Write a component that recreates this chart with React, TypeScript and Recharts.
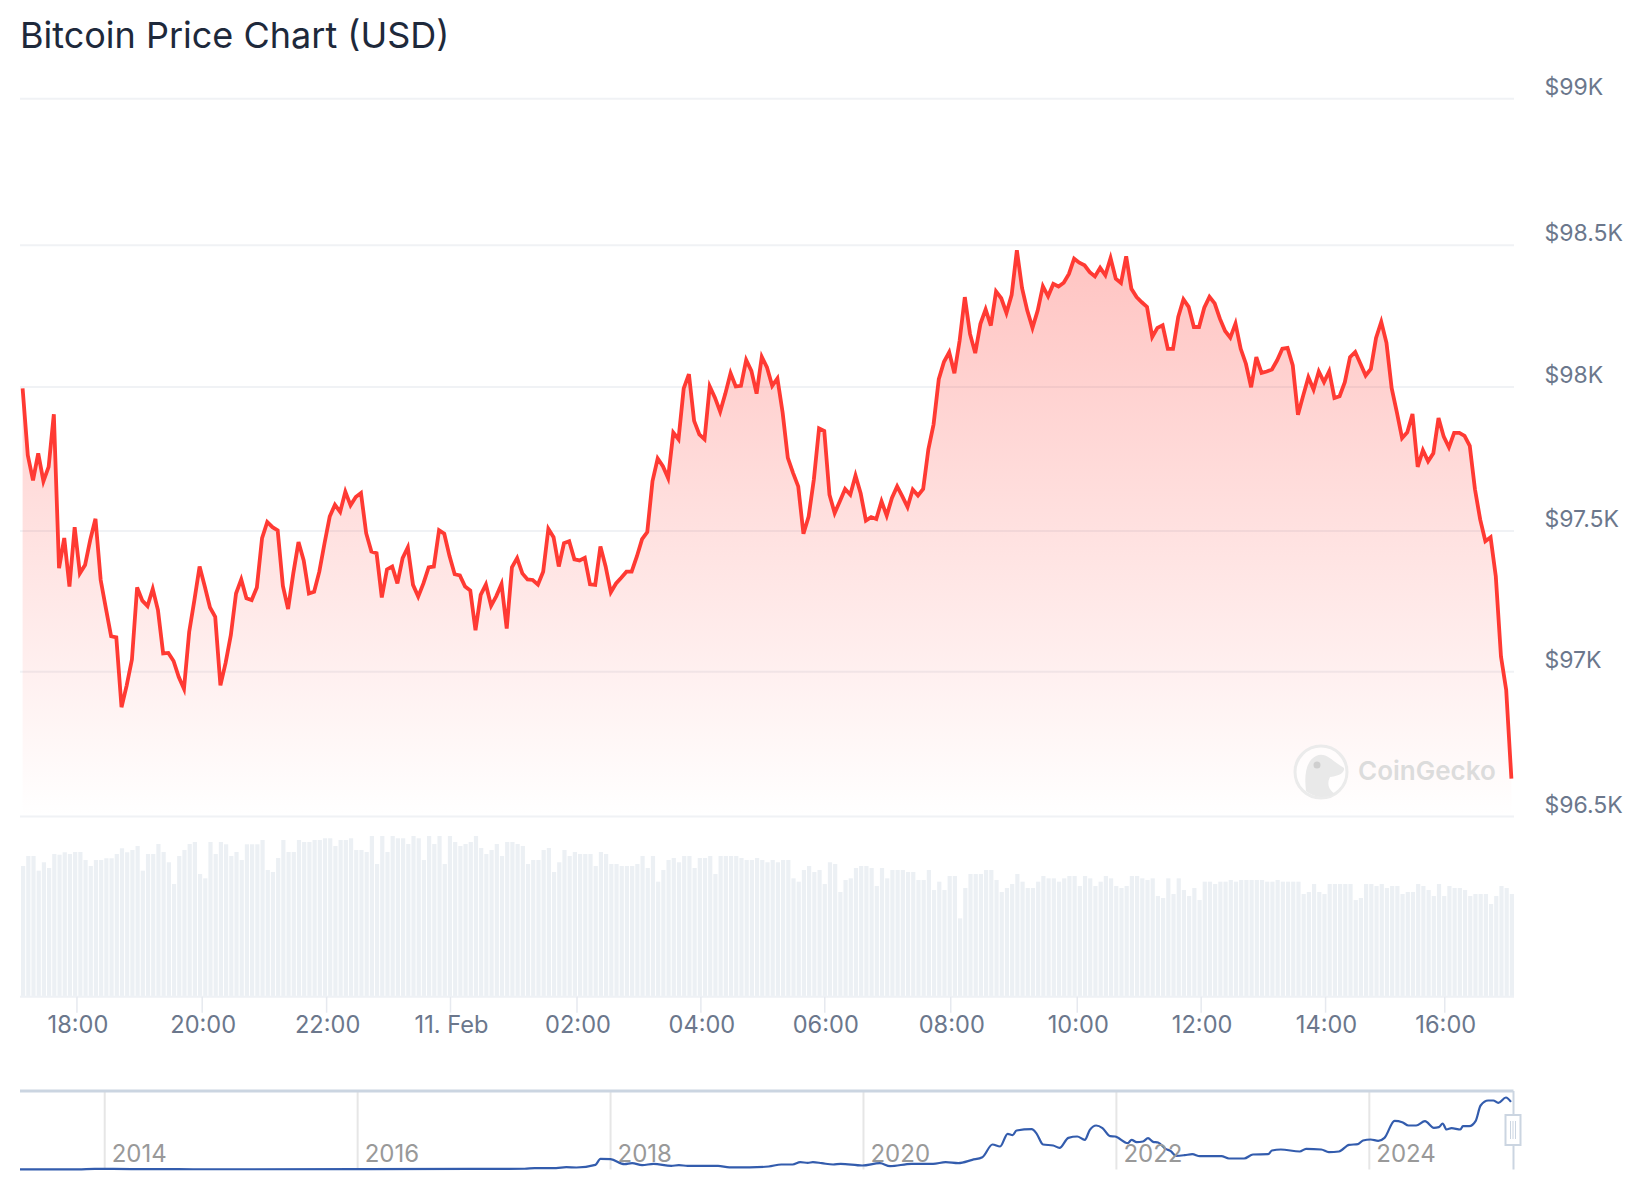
import React from 'react';
import { ComposedChart, Area, Bar, BarChart, LineChart, Line, XAxis, YAxis, CartesianGrid, ReferenceLine } from 'recharts';

const FONT = 'Inter, sans-serif';

const prices = [
97991,97758,97671,97765,97668,97718,97901,97365,97470,97301,97508,97347,97376,97464,97537,97324,97225,97128,97124,96881,96957,97047,97298,97252,
97233,97293,97219,97068,97070,97042,96986,96945,97143,97254,97371,97301,97228,97196,96957,97035,97132,97277,97326,97260,97254,97298,97470,97526,
97508,97497,97303,97223,97347,97456,97392,97277,97283,97353,97452,97545,97586,97561,97631,97584,97613,97627,97487,97423,97417,97263,97361,97371,
97312,97400,97437,97307,97266,97312,97368,97371,97497,97485,97408,97344,97340,97301,97287,97149,97272,97308,97234,97268,97310,97155,97368,97400,
97347,97326,97324,97308,97353,97502,97473,97371,97452,97459,97396,97392,97401,97309,97307,97441,97371,97281,97312,97332,97353,97353,97406,97466,
97491,97668,97747,97720,97679,97837,97814,97991,98041,97878,97831,97814,97998,97959,97910,97973,98044,97998,98000,98090,98052,97973,98101,98064,
98000,98026,97907,97749,97697,97650,97485,97545,97674,97852,97843,97621,97557,97598,97641,97621,97688,97625,97531,97543,97536,97598,97548,97610,
97650,97615,97578,97639,97618,97641,97779,97866,98023,98084,98117,98044,98157,98309,98181,98114,98216,98266,98210,98329,98305,98254,98317,98472,
98340,98262,98202,98262,98347,98312,98355,98346,98359,98390,98443,98429,98420,98396,98381,98411,98385,98445,98373,98358,98451,98338,98309,98291,
98275,98170,98202,98211,98129,98129,98240,98301,98275,98205,98205,98272,98310,98287,98234,98191,98168,98217,98129,98077,97995,98100,98045,98050,
98057,98089,98129,98132,98071,97899,97966,98030,97987,98050,98013,98051,97958,97964,98013,98100,98118,98077,98036,98059,98167,98223,98150,97992,
97908,97818,97838,97902,97718,97776,97737,97765,97888,97823,97786,97836,97836,97826,97791,97640,97535,97459,97473,97337,97057,96941,96632,
];

const volumes = [
392,422,422,378,403,386,428,426,433,428,434,434,410,392,410,410,415,415,428,445,433,440,452,378,428,428,458,434,403,338,422,440,458,464,368,355,
464,428,464,457,422,434,410,457,457,457,470,380,374,416,470,434,434,470,464,464,470,470,475,475,452,470,470,475,440,440,434,482,398,482,434,482,
475,475,458,482,475,410,482,458,482,398,482,464,452,458,464,482,446,428,440,458,422,464,464,458,452,398,410,410,440,446,374,403,440,422,434,428,
428,428,392,434,428,398,398,392,392,392,398,422,386,422,345,380,410,416,403,422,422,386,416,416,422,368,422,422,422,422,416,410,410,416,410,403,
410,403,410,410,355,345,380,392,374,380,338,403,398,314,350,355,386,392,392,386,332,386,355,380,380,380,374,374,350,350,380,320,345,320,362,362,
235,326,368,368,368,380,380,350,314,326,338,368,345,326,326,345,362,355,355,345,355,362,362,332,362,355,332,345,362,355,332,326,332,362,362,355,
350,355,302,296,355,308,355,320,302,326,290,345,345,338,345,345,350,345,350,350,350,350,350,345,345,350,345,345,345,345,308,314,338,314,308,338,
338,338,338,338,290,296,338,338,332,338,326,332,332,308,314,314,338,332,320,302,338,302,332,326,326,320,302,308,308,308,278,302,332,326,308,
];

// gridline levels
const priceTicks = [96500, 97004, 97495, 97996, 98490, 99000];
const priceLabels = ['$96.5K', '$97K', '$97.5K', '$98K', '$98.5K', '$99K'];
const timeTicks = [10.44, 34.5, 58.4, 82.2, 106.5, 130.3, 154.1, 178.3, 202.6, 226.4, 250.3, 273.2];
const timeLabels = ['18:00', '20:00', '22:00', '11. Feb', '02:00', '04:00', '06:00', '08:00', '10:00', '12:00', '14:00', '16:00'];

const navYears = [
2013.33,2013.79,2013.92,2014.21,2014.41,2014.58,2014.83,2015.99,2016.9,2017.32,2017.4,2017.57,2017.65,2017.73,2017.88,2017.92,2018,2018.11,2018.17,2018.25,2018.34,2018.48,2018.54,2018.61,2018.85,2018.94,2019.1,2019.25,2019.35,2019.44,2019.5,2019.56,2019.6,
2019.67,2019.76,2019.82,2019.99,2020.13,2020.21,2020.38,2020.55,2020.65,2020.75,2020.86,2020.94,2021.02,2021.08,2021.14,2021.18,2021.21,2021.33,2021.37,2021.42,2021.5,2021.55,2021.62,2021.69,2021.75,2021.79,2021.84,2021.89,2021.95,2021.99,
2022.09,2022.12,2022.16,2022.21,2022.25,2022.29,2022.33,2022.39,2022.43,2022.47,2022.54,2022.6,2022.66,2022.83,2022.89,2023.01,2023.08,2023.2,2023.23,2023.3,2023.45,2023.5,2023.62,2023.68,2023.76,2023.84,2023.91,2023.95,2024.01,2024.07,2024.12,
2024.2,2024.26,2024.31,2024.37,2024.44,2024.51,2024.55,2024.58,2024.61,2024.65,2024.72,2024.74,2024.79,2024.84,2024.88,2024.94,2024.98,2025.02,2025.08,2025.12,
];
const navPrices = [
100,200,1000,600,600,500,350,430,800,1100,2000,2200,3500,3000,7000,16000,15500,8000,9500,6500,8500,5500,6500,5500,5500,3200,3200,4500,7500,7500,11000,10000,11000,
9500,7500,8500,6000,9500,5000,8500,8500,11000,9500,14500,18500,37500,34500,53500,51500,58500,60500,53500,37500,36000,32500,47500,49500,44500,59500,66000,62000,50000,49500,
39500,44500,41000,42000,47000,41500,40500,31000,27500,20500,21500,23000,20000,20000,16500,16500,22500,23000,28500,30000,27000,31000,30000,26000,27000,37000,38000,43500,45000,43000,47500,
73000,71000,66000,66000,72500,62500,63500,69000,60000,62000,60000,65000,65000,72500,96000,103500,103500,100000,108000,101500,
];
const navTicks = [2014, 2016, 2018, 2020, 2022, 2024];
const navStart = 2013.33;
const navEnd = 2025.14;
const navTop = 117750;

const mainData = prices.map((price, i) => ({ i, price, volume: volumes[i] }));
const navData = navYears.map((year, i) => ({ year, price: navPrices[i] }));

const PriceTick = (props: any) => {
  const idx = priceTicks.indexOf(props.payload.value);
  return (
    <text x={1544.5} y={props.y - 12} dy="0.36em" fontFamily={FONT} fontSize={23} fill="#6b778c">
      {priceLabels[idx]}
    </text>
  );
};

const NavTick = (props: any) => (
  <text x={props.x + 7} y={props.y - 16} dy="0.36em" fontFamily={FONT} fontSize={24} fill="#999999">
    {props.payload.value}
  </text>
);

export default function App() {
  return (
    <div style={{ position: 'absolute', left: 0, top: 0, width: 1644, height: 1200, background: '#fff', overflow: 'hidden' }}>
      <div style={{ position: 'absolute', left: 20, top: 12, fontFamily: FONT, fontSize: 36, lineHeight: '46px', fontWeight: 400, color: '#1e293b', whiteSpace: 'nowrap' }}>
        Bitcoin Price Chart (USD)
      </div>

      <div style={{ position: 'absolute', left: 0, top: 0 }}>
        <ComposedChart width={1644} height={820} data={mainData} margin={{ top: 98.7, right: 0, bottom: 3.4, left: 20 }}>
          <defs>
            <linearGradient id="priceFill" x1="0" y1="0" x2="0" y2="1">
              <stop offset="0%" stopColor="#ff3a33" stopOpacity={0.3} />
              <stop offset="100%" stopColor="#ff3a33" stopOpacity={0} />
            </linearGradient>
          </defs>
          <CartesianGrid horizontal vertical={false} stroke="#f0f2f5" strokeWidth={2} />
          <XAxis dataKey="i" type="number" domain={[-0.5, 286.5]} hide />
          <YAxis orientation="right" width={130} domain={[96500, 99000]} ticks={priceTicks} axisLine={false} tickLine={false} tick={PriceTick} interval={0} />
          <Area type="linear" dataKey="price" stroke="#ff3a33" strokeWidth={3.8} fill="url(#priceFill)" fillOpacity={1} dot={false} activeDot={false} isAnimationActive={false} />
        </ComposedChart>
      </div>

      <svg width={1644} height={1200} style={{ position: 'absolute', left: 0, top: 0, pointerEvents: 'none' }}>
        <circle cx={1321} cy={772} r={26} fill="#ffffff" fillOpacity={0.55} stroke="#ebebeb" strokeWidth={3} />
        <path d="M1306 791 C1304 775 1306 761 1316 756 C1326 751 1333 762 1344 768 C1345 774 1336 776 1330 777 C1326 785 1330 791 1335 794 A26 26 0 0 1 1306 791 Z" fill="#e9e9e9" />
        <circle cx={1317} cy={765} r={3.5} fill="#cfcfcf" />
        <text x={1358} y={780} fontFamily={FONT} fontSize={26} fontWeight={600} fill="#dcdcdc">CoinGecko</text>
      </svg>

      <div style={{ position: 'absolute', left: 0, top: 830 }}>
        <BarChart width={1644} height={220} data={mainData} margin={{ top: 6, right: 130, bottom: 0, left: 20 }}>
          <XAxis
            dataKey="i"
            type="number"
            domain={[-0.5, 286.5]}
            ticks={timeTicks}
            interval={0}
            height={53.3}
            tickSize={16}
            tickMargin={4}
            tickFormatter={(v: number) => timeLabels[timeTicks.indexOf(v)]}
            tick={{ fontFamily: FONT, fontSize: 23.6, fill: '#6b778c', dx: 1 }}
            tickLine={{ stroke: '#e6e9ef', strokeWidth: 1.5 }}
            axisLine={{ stroke: '#eef1f5', strokeWidth: 2 }}
          />
          <YAxis hide domain={[0, 482]} />
          <Bar dataKey="volume" fill="#ecf0f4" barSize={4.2} isAnimationActive={false} />
        </BarChart>
      </div>

      <div style={{ position: 'absolute', left: 0, top: 1081 }}>
        <LineChart width={1644} height={119} data={navData} margin={{ top: 10, right: 130.5, bottom: 0, left: 20 }}>
          <XAxis dataKey="year" type="number" domain={[navStart, navEnd]} ticks={navTicks} interval={0} height={30.5} axisLine={false} tickLine={false} tick={NavTick} tickSize={0} tickMargin={0} />
          <YAxis hide domain={[0, navTop]} />
          {navTicks.map((year) => (
            <ReferenceLine key={year} x={year} stroke="#e6e6e6" strokeWidth={2} />
          ))}
          <ReferenceLine y={navTop} stroke="#cbd5e1" strokeWidth={3} />
          <ReferenceLine x={navEnd} stroke="#cbd5e1" strokeWidth={2} />
          <Line type="monotone" dataKey="price" stroke="#335cad" strokeWidth={2.2} dot={false} activeDot={false} isAnimationActive={false} />
        </LineChart>
      </div>

      <svg width={1644} height={1200} style={{ position: 'absolute', left: 0, top: 0, pointerEvents: 'none' }}>
        <rect x={1505.5} y={1115} width={15} height={30} fill="#ffffff" stroke="#cbd5e1" strokeWidth={2} />
        <path d="M1510.5 1121 V1139 M1513 1121 V1139 M1515.5 1121 V1139" stroke="#cbd5e1" strokeWidth={1} fill="none" />
      </svg>
    </div>
  );
}
